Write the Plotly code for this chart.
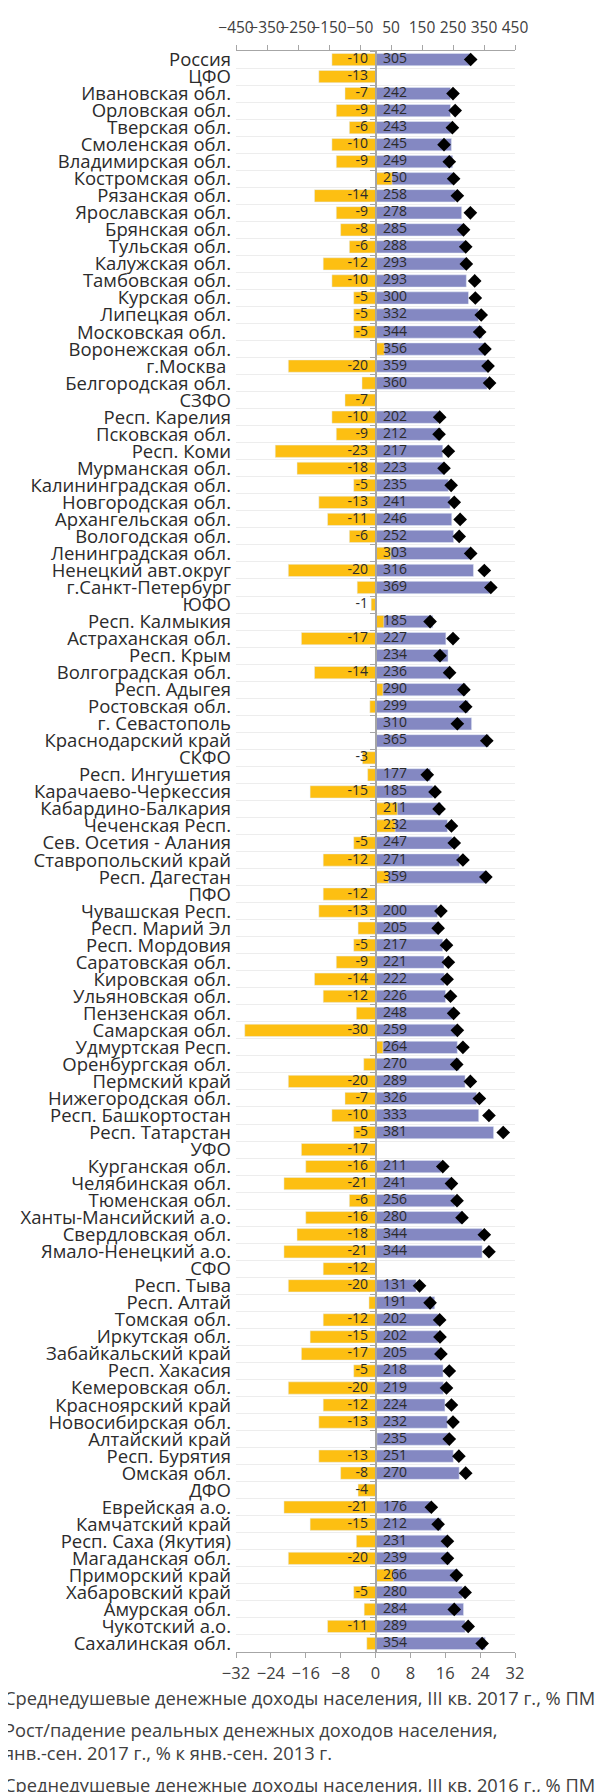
import plotly.graph_objects as go

regions = [
    "Россия", "ЦФО", "Ивановская обл.", "Орловская обл.", "Тверская обл.", "Смоленская обл.",
    "Владимирская обл.", "Костромская обл.", "Рязанская обл.", "Ярославская обл.", "Брянская обл.",
    "Тульская обл.", "Калужская обл.", "Тамбовская обл.", "Курская обл.", "Липецкая обл.",
    "Московская обл. ", "Воронежская обл.", "г.Москва ", "Белгородская обл.",
    "СЗФО", "Респ. Карелия", "Псковская обл.", "Респ. Коми", "Мурманская обл.",
    "Калининградская обл.", "Новгородская обл.", "Архангельская обл.", "Вологодская обл.",
    "Ленинградская обл.", "Ненецкий авт.округ", "г.Санкт-Петербург",
    "ЮФО", "Респ. Калмыкия", "Астраханская обл.", "Респ. Крым", "Волгоградская обл.",
    "Респ. Адыгея", "Ростовская обл.", "г. Севастополь", "Краснодарский край",
    "СКФО", "Респ. Ингушетия", "Карачаево-Черкессия", "Кабардино-Балкария", "Чеченская Респ.",
    "Сев. Осетия - Алания", "Ставропольский край", "Респ. Дагестан",
    "ПФО", "Чувашская Респ.", "Респ. Марий Эл", "Респ. Мордовия", "Саратовская обл.",
    "Кировская обл.", "Ульяновская обл.", "Пензенская обл.", "Самарская обл.",
    "Удмуртская Респ.", "Оренбургская обл.", "Пермский край", "Нижегородская обл.",
    "Респ. Башкортостан", "Респ. Татарстан",
    "УФО", "Курганская обл.", "Челябинская обл.", "Тюменская обл.", "Ханты-Мансийский а.о.",
    "Свердловская обл.", "Ямало-Ненецкий а.о.",
    "СФО", "Респ. Тыва", "Респ. Алтай", "Томская обл.", "Иркутская обл.", "Забайкальский край",
    "Респ. Хакасия", "Кемеровская обл.", "Красноярский край", "Новосибирская обл.",
    "Алтайский край", "Респ. Бурятия", "Омская обл.",
    "ДФО", "Еврейская а.о.", "Камчатский край", "Респ. Саха (Якутия)", "Магаданская обл.",
    "Приморский край", "Хабаровский край", "Амурская обл.", "Чукотский а.о.", "Сахалинская обл.",
]

districts = ["ЦФО", "СЗФО", "ЮФО", "СКФО", "ПФО", "УФО", "СФО", "ДФО"]

# Среднедушевые денежные доходы населения, III кв. 2017 г., % ПМ
income_2017 = [
    305, None, 242, 242, 243, 245, 249, 250, 258, 278, 285, 288, 293, 293, 300, 332, 344, 356, 359, 360,
    None, 202, 212, 217, 223, 235, 241, 246, 252, 303, 316, 369,
    None, 185, 227, 234, 236, 290, 299, 310, 365,
    None, 177, 185, 211, 232, 247, 271, 359,
    None, 200, 205, 217, 221, 222, 226, 248, 259, 264, 270, 289, 326, 333, 381,
    None, 211, 241, 256, 280, 344, 344,
    None, 131, 191, 202, 202, 205, 218, 219, 224, 232, 235, 251, 270,
    None, 176, 212, 231, 239, 266, 280, 284, 289, 354,
]

# Рост/падение реальных денежных доходов, янв.-сен. 2017 г., % к янв.-сен. 2013 г.
real_income_change = [
    -10, -13, -7, -9, -6, -10, -9, 3.8, -14, -9, -8, -6, -12, -10, -5, -5, -5, 2.0, -20, -3.1,
    -7, -10, -9, -23, -18, -5, -13, -11, -6, 3.5, -20, -4.2,
    -1, 1.9, -17, None, -14, 1.7, -1.3, None, None,
    -3, -1.8, -15, 5.0, 4.5, -5, -12, 3.0,
    -12, -13, -4.0, -5, -9, -14, -12, -4.4, -30, 1.7, -2.7, -20, -7, -10, -5,
    -17, -16, -21, -6, -16, -18, -21,
    -12, -20, -1.5, -12, -15, -17, -5, -20, -12, -13, 0.3, -13, -8,
    -4, -21, -15, -4.4, -20, 4.1, -5, -2.6, -11, -2.0,
]

# Среднедушевые денежные доходы населения, III кв. 2016 г., % ПМ
income_2016 = [
    307, None, 250, 257, 248, 221, 238, 252, 264, 306, 284, 291, 293, 320, 322, 341, 336, 353, 363, 368,
    None, 207, 205, 235, 221, 244, 254, 273, 270, 307, 351, 372,
    None, 176, 250, 208, 239, 285, 291, 264, 359,
    None, 167, 192, 205, 245, 254, 282, 356,
    None, 211, 202, 229, 235, 231, 242, 252, 264, 282, 262, 306, 335, 366, 412,
    None, 217, 245, 263, 279, 351, 366,
    None, 142, 176, 207, 208, 211, 238, 229, 245, 250, 238, 269, 291,
    None, 180, 202, 232, 232, 261, 289, 254, 299, 344,
]

top_ticks = [-450, -350, -250, -150, -50, 50, 150, 250, 350, 450]
bottom_ticks = [-32, -24, -16, -8, 0, 8, 16, 24, 32]

assert len(regions) == len(income_2017) == len(real_income_change) == len(income_2016)

name_2017 = "Среднедушевые денежные доходы населения, III кв. 2017 г., % ПМ"
name_change = ("Рост/падение реальных денежных доходов населения,<br>"
               "янв.-сен. 2017 г., % к янв.-сен. 2013 г.")
name_2016 = "Среднедушевые денежные доходы населения, III кв. 2016 г., % ПМ"

BLUE = "#8488C2"
ORANGE = "#FDBF12"
TXT = "#2b2b2b"
AX = "#a6a6a6"
FONT = "'Open Sans', 'Noto Sans', sans-serif"

blue_text = ["" if v is None else str(v) for v in income_2017]
orange_text = []
for r, v in zip(regions, real_income_change):
    if v is not None and (round(v) <= -5 or r in districts):
        orange_text.append(str(round(v)))
    else:
        orange_text.append("")
zeros = [0] * len(regions)

fig = go.Figure()
fig.add_trace(go.Bar(
    x=income_2017, y=regions, orientation="h", xaxis="x", yaxis="y",
    marker=dict(color=BLUE), width=0.72, name=name_2017,
    legendrank=1, legendgroup="g1",
))
fig.add_trace(go.Bar(
    x=real_income_change, y=regions, orientation="h", xaxis="x2", yaxis="y",
    marker=dict(color=ORANGE), width=0.72, name=name_change,
    legendrank=2, legendgroup="g2",
))
fig.add_trace(go.Scatter(
    x=income_2016, y=regions, mode="markers", xaxis="x", yaxis="y",
    marker=dict(symbol="diamond", size=10.5, color="black"),
    name=name_2016, legendrank=3, legendgroup="g3",
))
fig.add_trace(go.Scatter(
    x=zeros, y=regions, mode="markers+text", xaxis="x2", yaxis="y",
    text=blue_text, textposition="middle right",
    textfont=dict(size=14, color=TXT, family=FONT),
    marker=dict(size=10.5, color="rgba(0,0,0,0)"),
    showlegend=False, hoverinfo="skip",
))
fig.add_trace(go.Scatter(
    x=zeros, y=regions, mode="markers+text", xaxis="x2", yaxis="y",
    text=orange_text, textposition="middle left",
    textfont=dict(size=14, color=TXT, family=FONT),
    marker=dict(size=10.5, color="rgba(0,0,0,0)"),
    showlegend=False, hoverinfo="skip",
))
# invisible carrier for the category axis drawn along the zero line (ticks between rows)
fig.add_trace(go.Scatter(
    x=[None] * len(regions), y=regions, mode="markers", xaxis="x", yaxis="y2",
    marker=dict(size=1, color="rgba(0,0,0,0)"), showlegend=False, hoverinfo="skip",
))

n = len(regions)
yrange = [n - 0.5, -0.5]
zero_pos = (0 - top_ticks[0]) / (top_ticks[-1] - top_ticks[0])

fig.update_layout(
    width=606, height=1792,
    margin=dict(l=228, r=99, t=43, b=148, autoexpand=False),
    paper_bgcolor="white", plot_bgcolor="white",
    font=dict(family=FONT, size=16, color="#404040"),
    barmode="overlay",
    showlegend=True,
    legend=dict(
        x=-0.975, xanchor="left", y=-0.017, yanchor="top",
        font=dict(size=18.3, color="#404040", family=FONT),
        bgcolor="rgba(0,0,0,0)", traceorder="grouped", tracegroupgap=5,
    ),
    xaxis=dict(
        side="top", range=[top_ticks[0], top_ticks[-1]], tickmode="array", tickvals=top_ticks,
        tickangle=0, ticks="outside", ticklen=5, tickcolor=AX,
        showline=True, linecolor=AX, linewidth=1,
        showgrid=False, zeroline=False, tickfont=dict(size=15.5, color="#404040"),
        ticklabelstandoff=6, anchor="y", fixedrange=True,
    ),
    xaxis2=dict(
        overlaying="x", side="bottom", anchor="y",
        range=[bottom_ticks[0], bottom_ticks[-1]], tickmode="array", tickvals=bottom_ticks,
        tickangle=0, ticks="outside", ticklen=5, tickcolor=AX,
        showline=True, linecolor=AX, linewidth=1,
        showgrid=False, zeroline=True, zerolinecolor=AX, zerolinewidth=1.5,
        tickfont=dict(size=16.5, color="#404040"), ticklabelstandoff=1,
        fixedrange=True,
    ),
    yaxis=dict(
        type="category", categoryorder="array", categoryarray=regions, range=yrange,
        tickmode="array", tickvals=regions, ticktext=regions,
        tickson="boundaries", showgrid=True, gridcolor="#ededed", gridwidth=1,
        ticks="", showline=False, zeroline=False,
        tickfont=dict(size=18.5, color=TXT), ticklabelstandoff=4,
        fixedrange=True,
    ),
    yaxis2=dict(
        type="category", categoryorder="array", categoryarray=regions, range=yrange,
        tickmode="array", tickvals=regions,
        overlaying="y", anchor="free", position=zero_pos, side="left",
        tickson="boundaries", ticks="outside", ticklen=5, tickcolor=AX,
        showline=True, linecolor=AX, linewidth=1.5,
        showticklabels=False, showgrid=False, zeroline=False, fixedrange=True,
    ),
)

fig.write_html("out.html")
